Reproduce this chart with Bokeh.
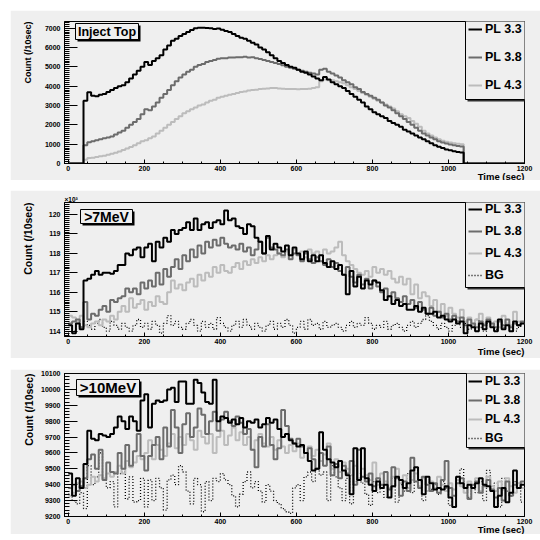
import numpy as np
from bokeh.plotting import figure
from bokeh.layouts import column
from bokeh.models import (Range1d, SingleIntervalTicker, Label, Legend, LegendItem,
                          Title, BoxAnnotation)
from bokeh.embed import file_html
from bokeh.resources import INLINE

# ---------------- data ----------------
BIN = 10            # seconds per bin
T_MAX = 1200
time_edges = list(range(0, T_MAX + BIN, BIN))

# Panel 1 "Inject Top": counts per 10 s, non-zero bins start at 40 s
inj_start = 40
inj_pl33 = [3250, 3680, 3500, 3480, 3550, 3600, 3700, 3800, 3900, 4000,
            4050, 4200, 4400, 4600, 4800, 5000, 5250, 5100, 5300, 5450,
            5600, 5900, 6100, 6350, 6450, 6600, 6700, 6800, 6900, 7000,
            7020, 7020, 7010, 6990, 6960, 6980, 6920, 6850, 6800, 6700,
            6600, 6500, 6450, 6350, 6250, 6150, 6000, 5900, 5750, 5600,
            5450, 5300, 5200, 5100, 5000, 4950, 4850, 4750, 4700, 4600,
            4500, 4400, 4300, 4480, 4350, 4200, 4100, 4000, 3900, 3750,
            3600, 3450, 3300, 3150, 2950, 2800, 2650, 2550, 2450, 2350,
            2200, 2100, 2000, 1900, 1750, 1650, 1550, 1450, 1350, 1250,
            1150, 1050, 950, 870, 800, 730, 680, 640, 600, 570]
inj_pl38 = [950, 1100, 1150, 1200, 1250, 1300, 1350, 1400, 1500, 1600,
            1700, 1850, 2000, 2150, 2300, 2550, 2800, 2750, 2950, 3150,
            3400, 3600, 3800, 4050, 4250, 4450, 4600, 4750, 4850, 5000,
            5100, 5150, 5250, 5300, 5350, 5420, 5450, 5450, 5480, 5480,
            5500, 5500, 5520, 5480, 5500, 5450, 5400, 5350, 5300, 5250,
            5200, 5150, 5080, 5000, 4950, 4900, 4850, 4800, 4750, 4700,
            4650, 4600, 4850, 4900, 4750, 4650, 4550, 4450, 4300, 4200,
            4100, 3950, 3850, 3700, 3600, 3500, 3400, 3300, 3150, 3000,
            2900, 2750, 2600, 2450, 2300, 2150, 2000, 1850, 1700, 1550,
            1450, 1350, 1250, 1150, 1080, 1030, 980, 940, 900, 880]
inj_pl43 = [200, 280, 300, 330, 370, 400, 450, 500, 550, 620,
            700, 780, 850, 950, 1050, 1150, 1200, 1300, 1400, 1550,
            1700, 1850, 2000, 2150, 2300, 2450, 2600, 2700, 2800, 2900,
            3000, 3050, 3150, 3250, 3300, 3400, 3450, 3500, 3550, 3600,
            3650, 3700, 3720, 3780, 3800, 3820, 3850, 3870, 3880, 3900,
            3900, 3880, 3870, 3860, 3850, 3850, 3840, 3850, 3860, 3870,
            3900, 3950, 4250, 4350, 4300, 4300, 4250, 4200, 4150, 4050,
            3950, 3850, 3750, 3650, 3550, 3450, 3350, 3250, 3150, 3050,
            2950, 2850, 2700, 2550, 2450, 2350, 2200, 2050, 1900, 1700,
            1550, 1450, 1350, 1250, 1180, 1120, 1080, 1050, 1020, 1000]

# Panel 2 ">7MeV": counts per 10 s in units of 10^3, bins 0..1190 s
mev7_pl33 = [114.3, 113.9, 114.4, 114.1, 116.6, 116.7, 116.9, 117.1, 116.9, 117.0,
             117.0, 116.95, 117.1, 117.4, 117.4, 118.0, 117.9, 118.2, 118.3, 117.8,
             118.3, 118.5, 117.6, 118.6, 118.3, 118.8, 118.6, 119.2, 119.0, 119.2,
             119.3, 119.6, 119.2, 119.8, 119.2, 119.5, 119.6, 119.3, 119.6, 119.7,
             119.5, 120.2, 119.7, 119.8, 119.4, 119.3, 119.0, 119.5, 119.4, 118.8,
             118.6, 118.0, 118.9, 118.2, 118.5, 118.3, 118.1, 118.4, 117.9, 118.3,
             118.0, 117.7, 118.1, 117.6, 117.9, 117.6, 117.9, 117.5, 117.3, 117.6,
             117.2, 117.4, 116.9, 115.9, 117.1, 116.3, 116.8, 116.2, 116.6, 116.4,
             116.6, 116.5, 116.1, 115.6, 115.8, 115.4, 115.6, 115.3, 115.4, 115.1,
             115.1, 115.3, 115.0, 115.2, 114.9, 114.9, 115.0, 114.7, 114.8, 114.6,
             114.5, 114.6, 114.4, 114.5, 113.9, 114.3, 114.2, 114.0, 114.4, 114.1,
             114.5, 114.2, 114.0, 114.6, 114.1, 114.3, 114.0, 114.5, 114.3, 114.4]
mev7_pl38 = [114.4, 114.5, 114.6, 114.2, 115.5, 114.6, 114.9, 114.8, 115.1, 115.3,
             115.0, 115.6, 115.5, 115.7, 115.8, 116.2, 116.0, 116.2, 115.9, 116.5,
             116.2, 116.6, 116.3, 117.0, 116.4, 117.2, 116.8, 117.3, 117.7, 117.2,
             117.9, 117.6, 118.2, 117.8, 118.4, 118.0, 118.6, 118.3, 118.7, 118.4,
             118.8, 118.5, 118.3, 118.4, 118.2, 118.5, 118.1, 118.3, 117.9, 118.2,
             118.6, 118.0, 118.8, 118.3, 118.2, 118.0, 117.9, 118.2, 117.7, 118.0,
             117.9, 117.6, 118.0, 117.7, 117.5, 117.8, 117.6, 117.4, 117.7, 117.3,
             117.5, 117.1, 116.9, 117.3, 116.8, 116.5, 116.9, 116.4, 116.7, 116.2,
             116.6, 116.3, 116.0, 116.2, 115.8, 116.0, 115.7, 115.5, 115.8, 115.4,
             115.6, 115.2, 115.5, 115.1, 114.9, 115.2, 114.8, 115.0, 114.7, 114.9,
             114.6, 114.8, 114.5, 114.7, 114.3, 114.6, 114.4, 114.2, 114.5, 114.3,
             114.6, 114.4, 114.2, 114.5, 114.3, 114.6, 114.2, 114.4, 114.3, 114.5]
mev7_pl43 = [114.8, 114.7, 114.5, 114.8, 114.3, 114.2, 114.4, 114.5, 114.3, 114.6,
             114.5, 114.8, 114.6, 115.0, 115.3, 115.0, 115.7, 115.2, 115.4, 115.6,
             115.1, 115.5, 115.3, 115.8, 115.5, 115.4, 116.0, 116.6, 116.2, 116.4,
             116.1, 116.5, 116.7, 116.3, 116.9, 116.6, 117.0, 116.8, 117.3, 117.0,
             117.4, 117.1, 117.0, 117.3, 117.5, 117.2, 117.6, 117.4, 117.7, 117.5,
             117.8, 117.6, 117.9, 117.7, 117.9, 118.0, 117.8, 118.1, 117.9, 118.2,
             118.0, 118.1, 117.8, 118.2, 118.0, 118.1, 117.9, 118.2, 118.0, 118.1,
             118.3, 118.6, 117.9, 117.6, 117.4, 117.2, 117.0, 116.9, 117.1, 116.8,
             117.3, 117.0, 117.2, 116.9, 117.1, 116.7, 116.5, 116.8, 116.4, 116.7,
             115.9, 116.4, 115.7, 116.0, 115.8, 115.3, 115.6, 115.0, 115.4, 114.8,
             115.2, 114.9, 114.7, 115.1, 114.5, 114.7, 114.3, 114.6, 114.9, 114.4,
             114.7, 114.3, 114.5, 114.2, 114.8, 114.4, 114.3, 115.0, 114.5, 114.4]
mev7_bg = [114.3, 114.0, 114.4, 114.2, 114.5, 114.3, 114.1, 114.4, 114.6, 114.2,
           114.0, 114.5, 114.3, 114.1, 114.4, 114.2, 114.0, 114.3, 114.6, 114.2,
           114.4, 114.1, 114.5, 114.3, 113.9, 114.4, 114.8, 114.3, 114.5, 114.2,
           114.1, 114.4, 114.6, 114.3, 114.0, 114.5, 114.2, 114.4, 114.1, 114.7,
           114.4, 114.2, 114.0, 114.3, 114.5, 114.2, 114.6, 114.3, 114.1, 114.4,
           114.2, 114.0, 114.3, 114.5, 114.1, 114.4, 114.2, 114.6, 114.3, 113.9,
           114.2, 114.5, 114.1, 114.6, 114.3, 114.4, 114.1, 114.5, 114.2, 114.3,
           114.4, 114.2, 114.0, 114.3, 114.5, 114.2, 114.4, 114.3, 114.7, 114.4,
           114.1, 114.3, 114.2, 114.5, 114.1, 114.3, 114.4, 114.2, 114.0, 114.3,
           114.5, 114.2, 114.4, 114.6, 114.8, 114.5, 114.3, 114.1, 114.4, 114.2,
           114.0, 114.3, 114.5, 114.2, 114.4, 114.1, 114.3, 114.6, 114.2, 114.0,
           114.4, 114.3, 114.1, 114.5, 114.2, 114.4, 114.3, 114.0, 114.2, 114.4]

# Panel 3 ">10MeV": counts per 10 s, bins 0..1190 s
mev10_pl33 = [9470, 9330, 9440, 9380, 9530, 9740, 9690, 9680, 9720, 9710,
              9700, 9720, 9760, 9830, 9800, 9750, 9830, 9800, 9740, 9930,
              9970, 9760, 9910, 9930, 9920, 9930, 10000, 10010, 9920, 10050,
              10050, 9910, 9910, 10060, 10040, 9980, 9920, 9910, 10060, 9800,
              9830, 9820, 9790, 9810, 9780, 9820, 9760, 9800, 9790, 9810,
              9760, 9780, 9820, 9790, 9810, 9750, 9700, 9720, 9680, 9660,
              9640, 9650, 9600, 9550, 9490, 9500, 9730, 9620, 9560, 9540,
              9510, 9550, 9490, 9460, 9340, 9630, 9430, 9630, 9440, 9400,
              9360, 9420, 9380, 9400, 9320, 9390, 9450, 9430, 9380, 9410,
              9490, 9510, 9430, 9340, 9450, 9410, 9370, 9380, 9370, 9390,
              9320, 9260, 9450, 9410, 9380, 9400, 9380, 9410, 9440, 9400,
              9390, 9360, 9260, 9330, 9380, 9290, 9350, 9490, 9380, 9400]
mev10_pl38 = [9380, 9400, 9360, 9390, 9440, 9560, 9590, 9500, 9620, 9430,
              9540, 9480, 9470, 9600, 9500, 9650, 9520, 9610, 9720, 9580,
              9490, 9580, 9650, 9700, 9560, 9760, 9640, 9870, 9760, 9600,
              9780, 9850, 9700, 9760, 9880, 9840, 9720, 9800, 9860, 9740,
              9810, 9860, 9800, 9770, 9830, 9790, 9720, 9750, 9620, 9510,
              9700, 9640, 9780, 9650, 9560, 9630, 9870, 9770, 9690, 9660,
              9690, 9640, 9600, 9630, 9560, 9500, 9600, 9520, 9640, 9460,
              9530, 9440, 9520, 9470, 9550, 9400, 9620, 9450, 9420, 9470,
              9390, 9440, 9400, 9480, 9370, 9510, 9440, 9330, 9420, 9360,
              9570, 9420, 9380, 9450, 9400, 9360, 9410, 9350, 9430, 9550,
              9380, 9330, 9410, 9440, 9380, 9310, 9400, 9420, 9350, 9390,
              9430, 9370, 9320, 9380, 9300, 9420, 9330, 9400, 9380, 9420]
mev10_pl43 = [9330, 9350, 9410, 9420, 9380, 9400, 9450, 9420, 9460, 9440,
              9470, 9450, 9480, 9520, 9470, 9550, 9510, 9540, 9580, 9560,
              9600, 9680, 9560, 9650, 9620, 9580, 9660, 9720, 9630, 9700,
              9650, 9720, 9680, 9620, 9740, 9700, 9660, 9720, 9600, 9700,
              9740, 9650, 9710, 9760, 9680, 9730, 9650, 9700, 9620, 9680,
              9720, 9660, 9640, 9700, 9620, 9680, 9640, 9600, 9650, 9610,
              9660, 9570, 9600, 9640, 9580, 9620, 9550, 9590, 9660, 9500,
              9560, 9480, 9540, 9500, 9460, 9520, 9440, 9500, 9460, 9430,
              9540, 9400, 9470, 9420, 9380, 9450, 9500, 9410, 9460, 9380,
              9430, 9470, 9390, 9440, 9360, 9420, 9380, 9450, 9400, 9360,
              9410, 9370, 9430, 9390, 9350, 9420, 9380, 9440, 9360, 9400,
              9450, 9390, 9360, 9420, 9370, 9440, 9390, 9350, 9410, 9380]
mev10_bg = [9340, 9300, 9280, 9350, 9250, 9520, 9400, 9450, 9600, 9430,
            9380, 9420, 9260, 9470, 9480, 9310, 9450, 9290, 9300, 9440,
            9260, 9430, 9300, 9440, 9380, 9240, 9430, 9460, 9400, 9520,
            9480, 9360, 9280, 9440, 9400, 9230, 9420, 9300, 9440, 9420,
            9470, 9430, 9400, 9330, 9260, 9340, 9420, 9480, 9380, 9420,
            9360, 9290, 9400, 9360, 9300, 9280, 9250, 9230, 9220, 9380,
            9400, 9300, 9450, 9480, 9420, 9500, 9460, 9480, 9300, 9520,
            9450, 9380, 9300, 9440, 9280, 9420, 9470, 9410, 9340, 9270,
            9420, 9350, 9400, 9320, 9380, 9440, 9290, 9400, 9360, 9470,
            9350, 9490, 9420, 9300, 9450, 9370, 9400, 9340, 9420, 9380,
            9270, 9330, 9450, 9500, 9380, 9320, 9400, 9350, 9420, 9300,
            9490, 9370, 9410, 9260, 9440, 9360, 9330, 9420, 9380, 9290]

series_names = ["PL 3.3", "PL 3.8", "PL 4.3", "BG"]
titles = ["Inject Top", ">7MeV", ">10MeV"]
y_title = "Count (/10sec)"
x_title = "Time (sec)"

# ---------------- style ----------------
FONT = "Liberation Sans"
PAD = "#efefef"
COLORS = {"PL 3.3": "#000000", "PL 3.8": "#6c6c6c", "PL 4.3": "#bcbcbc", "BG": "#000000"}
N_BINS = T_MAX // BIN
FRAME_W = 460
LEFT_B = 53
RIGHT_B = 17


def padded(vals, start):
    arr = np.zeros(N_BINS)
    i0 = start // BIN
    arr[i0:i0 + len(vals)] = vals
    return arr


def full(vals):
    return np.asarray(vals[:N_BINS], dtype=float)


def screen_box(left, right, top, bottom, fill, line_color=None, line_width=0):
    return BoxAnnotation(left=left, right=right, top=top, bottom=bottom,
                         left_units="screen", right_units="screen",
                         top_units="screen", bottom_units="screen",
                         fill_color=fill, fill_alpha=1.0,
                         line_color=line_color, line_width=line_width,
                         line_alpha=1.0 if line_color else 0.0)


def make_panel(top, frame_h, bottom, yrange, yint, yminor, margin):
    p = figure(frame_width=FRAME_W, frame_height=frame_h,
               x_range=Range1d(-10, T_MAX), y_range=Range1d(*yrange),
               output_backend="svg", toolbar_location=None,
               min_border_left=LEFT_B, min_border_right=RIGHT_B,
               min_border_top=top, min_border_bottom=bottom, margin=margin)
    p.background_fill_color = PAD
    p.border_fill_color = PAD
    p.outline_line_color = "black"
    p.outline_line_width = 1
    p.xgrid.visible = False
    p.ygrid.visible = False
    p.xaxis.ticker = SingleIntervalTicker(interval=200, num_minor_ticks=4)
    p.yaxis.ticker = SingleIntervalTicker(interval=yint, num_minor_ticks=yminor)
    for ax in (p.xaxis[0], p.yaxis[0]):
        ax.axis_line_color = "black"
        ax.major_tick_out = 0
        ax.minor_tick_out = 0
        ax.major_tick_line_color = "black"
        ax.minor_tick_line_color = "black"
        ax.major_label_text_font = FONT
        ax.major_label_text_font_style = "bold"
        ax.major_label_text_font_size = "7px"
        ax.major_label_text_color = "black"
    p.xaxis.major_tick_in = 4
    p.xaxis.minor_tick_in = 2
    p.yaxis.major_tick_in = 13
    p.yaxis.minor_tick_in = 5
    p.xaxis.major_label_standoff = 2
    p.yaxis.major_label_standoff = 4
    # darker bevel line along the bottom of the pad
    p.add_layout(screen_box(-LEFT_B, FRAME_W + RIGHT_B + 5, -bottom + 1.2, -bottom - 1,
                            "#8c8c8c"))
    return p


def add_hist(p, vals, name, width=2.0):
    y = np.append(vals, vals[-1])
    kw = {}
    if name == "BG":
        kw["line_dash"] = "1 2"
        width = 1.3
    return p.step(x=time_edges, y=y, mode="after", line_color=COLORS[name],
                  line_width=width, **kw)


def add_title_box(p, text, box, size):
    left, right, top, bottom = box
    p.add_layout(screen_box(left + 2, right + 2, top - 2, bottom - 2, "black"))
    p.add_layout(screen_box(left, right, top, bottom, PAD, "black", 1))
    p.add_layout(Label(x=(left + right) / 2, y=(top + bottom) / 2,
                       x_units="screen", y_units="screen", text=text,
                       text_font=FONT, text_font_style="bold", text_font_size=size,
                       text_color="black", text_align="center",
                       text_baseline="middle"))


def make_title(text, align, valign, size, standoff):
    t = Title(text=text, align=align, vertical_align=valign, text_font=FONT,
              text_font_style="bold", text_font_size=size, offset=0,
              text_color="black", standoff=0)
    try:
        t.standoff = standoff
    except Exception:
        t.standoff = 0
    return t


def add_axis_titles(p, ysize, ystandoff, xstandoff):
    p.add_layout(make_title(y_title, "right", "middle", ysize, ystandoff), "left")
    p.add_layout(make_title(x_title, "right", "top", "9.5px", xstandoff), "below")


def add_legend(p, rends, names, box, loc, pad, h, sp, fsize):
    left, top, bottom = box
    p.add_layout(screen_box(left + 2, left + 200, top - 2, bottom - 2, "#303030"))
    p.add_layout(screen_box(left, left + 198, top, bottom, PAD, "black", 1))
    items = [LegendItem(label=n, renderers=[r]) for n, r in zip(names, rends)]
    leg = Legend(items=items, location=loc, background_fill_alpha=0,
                 border_line_alpha=0, label_text_color="black",
                 label_text_font=FONT, label_text_font_style="bold",
                 label_text_font_size=fsize, glyph_width=14, glyph_height=h,
                 label_height=h, spacing=sp, padding=pad, label_standoff=3,
                 margin=0)
    p.add_layout(leg)


# ---------------- panel 1 ----------------
p1 = make_panel(11, 142, 17, (0, 7345), 1000, 10, (10, 0, 0, 10))
r13 = add_hist(p1, padded(inj_pl43, inj_start), "PL 4.3")
r12 = add_hist(p1, padded(inj_pl38, inj_start), "PL 3.8")
r11 = add_hist(p1, padded(inj_pl33, inj_start), "PL 3.3")
add_title_box(p1, titles[0], (11, 74, 140, 124), "12.5px")
add_axis_titles(p1, "9px", 15, -6)
add_legend(p1, [r11, r12, r13], series_names[:3], (401, 153, 64), (400, 64),
           4, 20, 8, "12.5px")

# ---------------- panel 2 ----------------
p2 = make_panel(12, 134, 22, (113.727, 120.617), 1, 10, (10, 0, 0, 10))
r24 = add_hist(p2, full(mev7_bg), "BG")
r23 = add_hist(p2, full(mev7_pl43), "PL 4.3")
r22 = add_hist(p2, full(mev7_pl38), "PL 3.8")
r21 = add_hist(p2, full(mev7_pl33), "PL 3.3")
add_title_box(p2, titles[1], (16, 68, 127, 113), "14px")
add_axis_titles(p2, "10.5px", 21, -1)
p2.add_layout(Title(text="×10³", align="left", vertical_align="bottom",
                    text_font=FONT, text_font_size="6.5px", standoff=0, offset=0,
                    text_color="black"), "above")
add_legend(p2, [r21, r22, r23, r24], series_names, (401, 146, 49), (400, 49),
           4, 16, 6, "12.5px")

# ---------------- panel 3 ----------------
p3 = make_panel(4, 143, 18, (9200, 10100), 100, 5, (11, 0, 6, 10))
r34 = add_hist(p3, full(mev10_bg), "BG")
r33 = add_hist(p3, full(mev10_pl43), "PL 4.3")
r32 = add_hist(p3, full(mev10_pl38), "PL 3.8")
r31 = add_hist(p3, full(mev10_pl33), "PL 3.3")
add_title_box(p3, titles[2], (12, 75, 137, 121), "15px")
add_axis_titles(p3, "10.5px", 5, -6)
add_legend(p3, [r31, r32, r33, r34], series_names, (402, 147, 69), (402, 69),
           2, 14, 5, "12px")

layout = column(p1, p2, p3, spacing=0)
open("out.html", "w").write(file_html(layout, INLINE))
